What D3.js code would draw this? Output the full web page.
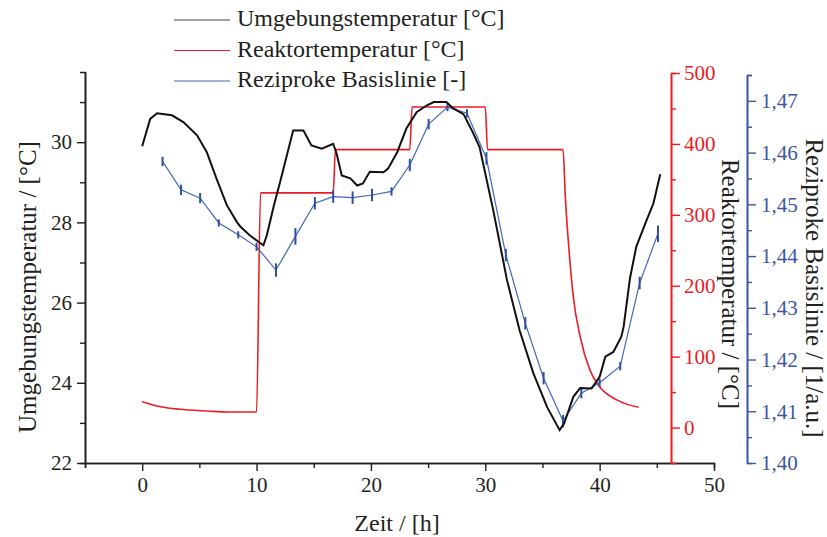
<!DOCTYPE html>
<html>
<head>
<meta charset="utf-8">
<script src="https://cdn.jsdelivr.net/npm/d3@7"></script>
<style>
  body { margin: 0; background: #fff; }
</style>
</head>
<body>
<div id="root"></div>
<script>
// Umgebungstemperatur (black)
const ambTime = [0, 0.7, 1.3, 2.6, 3.6, 4.8, 5.65, 6.5, 7.4, 8.3, 8.6, 9.4, 10.2, 10.6, 10.9, 11.5, 12.1, 13.2, 14.1, 14.8, 15.7, 16.7, 17.0, 17.45, 18.2, 18.8, 19.3, 19.9, 21.1, 21.5, 22.3, 23.1, 24.0, 24.9, 25.5, 26.6, 27.2, 28.1, 28.9, 29.5, 30.7, 31.9, 33.0, 34.2, 35.4, 36.5, 36.9, 37.7, 38.3, 39.3, 40.0, 40.5, 41.2, 41.9, 42.1, 42.65, 43.2, 44.1, 44.7, 45.3];
const ambTemp = [29.9, 30.58, 30.72, 30.67, 30.5, 30.17, 29.75, 29.09, 28.43, 28.0, 27.89, 27.68, 27.51, 27.43, 27.68, 28.4, 29.05, 30.29, 30.29, 29.92, 29.84, 29.96, 29.72, 29.17, 29.1, 28.92, 28.97, 29.26, 29.25, 29.34, 29.75, 30.34, 30.75, 30.92, 31.0, 31.0, 30.84, 30.7, 30.25, 29.88, 28.3, 26.56, 25.31, 24.24, 23.4, 22.82, 22.99, 23.65, 23.87, 23.86, 24.15, 24.65, 24.77, 25.15, 25.4, 26.6, 27.39, 28.05, 28.47, 29.2];

// Reaktortemperatur (red)
const reactTime = [0, 1.6, 3.3, 5.65, 7.55, 10.0, 10.35, 16.7, 16.9, 23.4, 23.6, 30.0, 30.2, 36.8, 37.0, 37.3, 37.7, 38.3, 39.15, 40.0, 41.5, 43.4];
const reactTemp = [36.5, 29.4, 25.7, 23.3, 21.9, 21.9, 331, 331, 392, 392, 452, 452, 392, 392, 325, 255, 184, 128, 81, 57.6, 39, 28.6];

// Reziproke Basislinie (blue) with error bars
const baseTime = [1.78, 3.4, 5.07, 6.7, 8.4, 10.0, 11.7, 13.4, 15.1, 16.7, 18.4, 20.1, 21.8, 23.4, 25.05, 26.7, 28.4, 30.1, 31.8, 33.5, 35.1, 36.8, 38.4, 40.0, 41.8, 43.5, 45.1];
const baseValue = [1.4583, 1.4528, 1.4512, 1.4464, 1.4441, 1.4418, 1.4373, 1.4438, 1.4502, 1.4515, 1.4513, 1.4518, 1.4525, 1.4576, 1.4655, 1.4688, 1.4676, 1.4589, 1.4402, 1.4270, 1.4164, 1.4081, 1.4135, 1.4155, 1.4187, 1.4348, 1.4443];
const baseError = [0.0009, 0.001, 0.001, 0.0007, 0.0007, 0.0008, 0.0013, 0.0016, 0.0012, 0.0012, 0.0012, 0.0012, 0.0008, 0.0012, 0.001, 0.0008, 0.0008, 0.0012, 0.0012, 0.0012, 0.0012, 0.0012, 0.001, 0.0008, 0.0008, 0.0012, 0.0016];

const xTicks = [0, 10, 20, 30, 40, 50];
const xMinor = [-5, 5, 15, 25, 35, 45];
const leftTicks = [22, 24, 26, 28, 30];
const leftMinor = [23, 25, 27, 29, 31];
const redTicks = [0, 100, 200, 300, 400, 500];
const redMinor = [50, 150, 250, 350, 450];
const blueTicks = [1.40, 1.41, 1.42, 1.43, 1.44, 1.45, 1.46, 1.47];
const blueMinor = [1.405, 1.415, 1.425, 1.435, 1.445, 1.455, 1.465, 1.475];

const legendNames = ["Umgebungstemperatur [°C]", "Reaktortemperatur [°C]", "Reziproke Basislinie [-]"];

const w = 827, h = 537;
const dark = "#231f20", red = "#ed1c24", blue = "#3a56a5";
const serif = "'Liberation Serif', 'Times New Roman', Times, 'DejaVu Serif', serif";

const svg = d3.select("#root").append("svg")
    .attr("width", w)
    .attr("height", h);

const x = d3.scaleLinear([-5, 50], [85, 714]);
const yL = d3.scaleLinear([22, 31.75], [463, 72]);
const yR = d3.scaleLinear([-50, 500], [463, 73]);
const yB = d3.scaleLinear([1.40, 1.475], [463, 75]);

const redX = 671, blueX = 747;

function styleAxis(g, color, size) {
    g.attr("font-family", null);
    g.select(".domain").attr("stroke", color).attr("stroke-width", 1.6);
    g.selectAll(".tick line").attr("stroke", color).attr("stroke-width", 1.4);
    g.selectAll(".tick text")
        .attr("fill", color)
        .attr("font-size", size);
}

// bottom axis
svg.append("g").attr("transform", "translate(0,463)")
    .call(d3.axisBottom(x).tickValues(xMinor).tickSize(5).tickFormat(""))
    .call(g => styleAxis(g, dark, 21));
svg.append("g").attr("transform", "translate(0,463)")
    .call(d3.axisBottom(x).tickValues(xTicks).tickSize(8).tickPadding(6).tickSizeOuter(0))
    .call(g => styleAxis(g, dark, 21));

// left axis
svg.append("g").attr("transform", "translate(85,0)")
    .call(d3.axisLeft(yL).tickValues(leftMinor).tickSize(5).tickFormat(""))
    .call(g => styleAxis(g, dark, 21));
svg.append("g").attr("transform", "translate(85,0)")
    .call(d3.axisLeft(yL).tickValues(leftTicks).tickSize(8).tickPadding(5).tickSizeOuter(0))
    .call(g => styleAxis(g, dark, 21));

// red axis
svg.append("g").attr("transform", `translate(${redX},0)`)
    .call(d3.axisRight(yR).tickValues(redMinor).tickSize(5).tickFormat(""))
    .call(g => styleAxis(g, red, 21));
svg.append("g").attr("transform", `translate(${redX},0)`)
    .call(d3.axisRight(yR).tickValues(redTicks).tickSize(9).tickPadding(4).tickSizeOuter(0))
    .call(g => styleAxis(g, red, 21));

// blue axis
const comma = d => d.toFixed(2).replace(".", ",");
svg.append("g").attr("transform", `translate(${blueX},0)`)
    .call(d3.axisRight(yB).tickValues(blueMinor).tickSize(5).tickFormat(""))
    .call(g => styleAxis(g, blue, 21));
svg.append("g").attr("transform", `translate(${blueX},0)`)
    .call(d3.axisRight(yB).tickValues(blueTicks).tickSize(9).tickPadding(5).tickSizeOuter(0).tickFormat(comma))
    .call(g => styleAxis(g, blue, 21));

// axis titles
svg.append("text")
    .attr("transform", "translate(27,287) rotate(-90)")
    .attr("text-anchor", "middle").attr("dominant-baseline", "central")
    .attr("font-size", 25).attr("fill", dark)
    .text("Umgebungstemperatur / [°C]");
svg.append("text")
    .attr("transform", "translate(730,284) rotate(90)")
    .attr("text-anchor", "middle").attr("dominant-baseline", "central")
    .attr("font-size", 25).attr("fill", dark)
    .text("Reaktortemperatur / [°C]");
svg.append("text")
    .attr("transform", "translate(814,288) rotate(90)")
    .attr("text-anchor", "middle").attr("dominant-baseline", "central")
    .attr("font-size", 25).attr("fill", dark)
    .text("Reziproke Basislinie / [1/a.u.]");
svg.append("text")
    .attr("x", 397).attr("y", 531)
    .attr("text-anchor", "middle")
    .attr("font-size", 24).attr("fill", dark)
    .text("Zeit / [h]");

// series
const amb = ambTime.map((t, i) => [t, ambTemp[i]]);
const react = reactTime.map((t, i) => [t, reactTemp[i]]);
const base = baseTime.map((t, i) => ({ t: t, v: baseValue[i], e: baseError[i] }));

svg.append("path")
    .attr("fill", "none").attr("stroke", red).attr("stroke-width", 1.6)
    .attr("d", d3.line().x(d => x(d[0])).y(d => yR(d[1])).curve(d3.curveMonotoneX)(react));

svg.append("path")
    .attr("fill", "none").attr("stroke", "#4466bb").attr("stroke-width", 1.2)
    .attr("d", d3.line().x(d => x(d.t)).y(d => yB(d.v))(base));

svg.selectAll(".err").data(base).enter().append("line")
    .attr("class", "err")
    .attr("x1", d => x(d.t)).attr("x2", d => x(d.t))
    .attr("y1", d => yB(d.v - d.e)).attr("y2", d => yB(d.v + d.e))
    .attr("stroke", "#2f4f9f").attr("stroke-width", 2);

svg.append("path")
    .attr("fill", "none").attr("stroke", "#111").attr("stroke-width", 2)
    .attr("d", d3.line().x(d => x(d[0])).y(d => yL(d[1]))(amb));

// legend
const legendColors = ["#444", red, "#4466bb"];
const legend = svg.append("g");
legendNames.forEach((name, i) => {
    const yy = 26 + i * 30.5;
    legend.append("line")
        .attr("x1", 174).attr("x2", 230)
        .attr("y1", yy - 6).attr("y2", yy - 6)
        .attr("stroke", legendColors[i]).attr("stroke-width", 1);
    legend.append("text")
        .attr("x", 237).attr("y", yy)
        .attr("font-size", 24).attr("fill", dark)
        .text(name);
});

svg.selectAll("text").style("font-family", serif);
</script>
</body>
</html>
